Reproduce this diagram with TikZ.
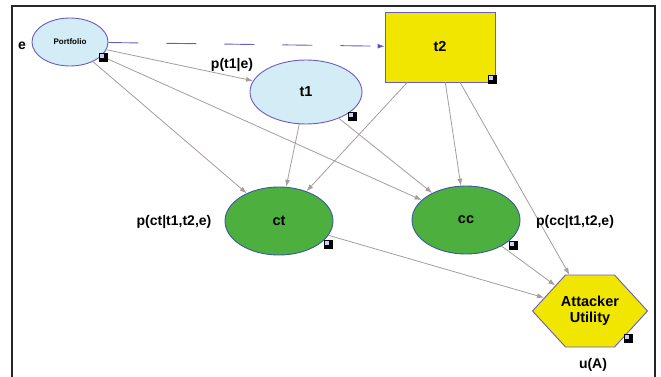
\documentclass[tikz,border=0pt]{standalone}
\usepackage{fontspec}
\setmainfont{Liberation Sans}
\usetikzlibrary{shapes.geometric,shapes.symbols,arrows.meta}

\definecolor{chancefill}{HTML}{D4ECF6}
\definecolor{nodeline}{HTML}{6A5CC0}
\definecolor{utilfill}{HTML}{4DB03E}
\definecolor{utilline}{HTML}{3A58A8}
\definecolor{decfill}{HTML}{F0E600}
\definecolor{arcgray}{HTML}{A69C9C}

\tikzset{
  chance/.style={ellipse, draw=nodeline, line width=0.9pt, fill=chancefill, inner sep=0pt},
  outcome/.style={ellipse, draw=utilline, line width=0.9pt, fill=utilfill, inner sep=0pt},
  decision/.style={rectangle, draw=nodeline, line width=0.9pt, fill=decfill, inner sep=0pt},
  utility/.style={signal, signal to=west and east, signal pointer angle=95,
    draw=nodeline, line width=0.9pt, fill=decfill, inner sep=0pt, align=center},
  nodetext/.style={font=\fontsize{14.5}{16}\selectfont\bfseries},
  lbl/.style={font=\fontsize{14}{15}\selectfont\bfseries, inner sep=0pt},
  arc/.style={draw=arcgray, line width=0.8pt, -{Latex[length=7pt,width=5pt]}},
  infoarc/.style={draw=nodeline, line width=0.9pt, dash pattern=on 30pt off 28pt,
    -{Latex[length=7pt,width=5pt,fill=utilline]}},
  badge/.style={fill=black, minimum size=9pt, inner sep=0pt,
    path picture={\fill[white!80!blue] ([xshift=1pt,yshift=-1pt]path picture bounding box.north west) rectangle ++(4,4);}}
}

\begin{document}
\begin{tikzpicture}[x=1pt,y=-1pt]
\useasboundingbox (0,0) rectangle (661,377);

% frame
\draw[line width=1.5pt, black!85] (12,377) -- (12,6) -- (655,6) -- (655,377);

% nodes
\node[chance, minimum width=76pt, minimum height=48pt] (port) at (70,42) {\fontsize{8}{9}\selectfont\bfseries Portfolio};
\node[chance, minimum width=112pt, minimum height=64pt, nodetext] (t1) at (306,92) {t1};
\node[decision, minimum width=110pt, minimum height=70pt, nodetext] (t2) at (440,47) {t2};
\node[outcome, minimum width=108pt, minimum height=68pt, nodetext] (ct) at (279,221) {ct};
\node[outcome, minimum width=108pt, minimum height=68pt, nodetext] (cc) at (466,220) {cc};
\node[utility, minimum height=72pt, nodetext] (au) at (590,311)
  {\makebox[49pt]{Attacker}\\\makebox[49pt]{Utility}};

% arcs
\draw[infoarc] (port) -- (t2);
\draw[arc] (port) -- (t1);
\draw[arc] (port) -- (ct);
\draw[arc] (port) -- (cc);
\draw[arc] (t1) -- (ct);
\draw[arc] (t1) -- (cc);
\draw[arc] (t2) -- (ct);
\draw[arc] (t2) -- (cc);
\draw[arc] (t2) -- (au);
\draw[arc] (ct) -- (au);
\draw[arc] (cc) -- (au);

% labels
\node[lbl] (le) at (22,46) {e};
\node[lbl] (lt1) at (232,65) {p(t1|e)};
\node[lbl] (lct) at (174,222) {p(ct|t1,t2,e)};
\node[lbl] (lcc) at (575,222) {p(cc|t1,t2,e)};
\node[lbl] (lu) at (593,365) {u(A)};

% node badges
\node[badge] (bport) at (103,58) {};
\node[badge] (bt1) at (352,117) {};
\node[badge] (bt2) at (492,80) {};
\node[badge] (bct) at (328,244) {};
\node[badge] (bcc) at (513,245) {};
\node[badge] (bau) at (628,338) {};
\end{tikzpicture}
\end{document}
